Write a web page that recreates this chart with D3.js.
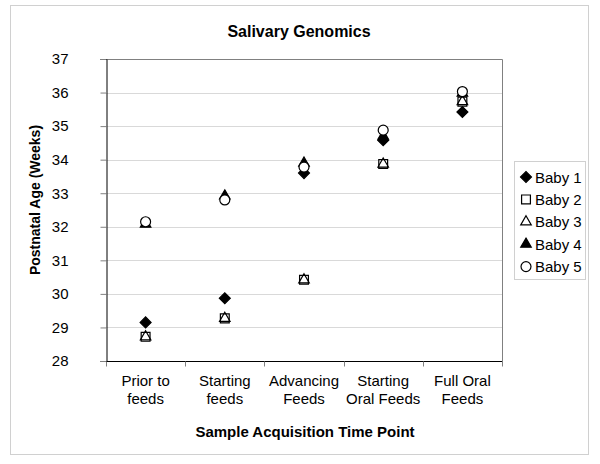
<!DOCTYPE html>
<html><head><meta charset="utf-8">
<script src="https://cdn.jsdelivr.net/npm/d3@7"></script>
<style>body{margin:0;background:#fff}svg{display:block;font-family:Arial,"Liberation Sans",sans-serif}</style>
</head><body><svg id="c" width="600" height="464"></svg>
<script>
const categories = [["Prior to","feeds"],["Starting","feeds"],["Advancing","Feeds"],["Starting","Oral Feeds"],["Full Oral","Feeds"]];
const seriesNames = ["Baby 1","Baby 2","Baby 3","Baby 4","Baby 5"];
const baby1 = [29.15, 29.87, 33.6, 34.58, 35.42];
const baby2 = [28.72, 29.27, 30.42, 33.87, 35.73];
const baby3 = [28.72, 29.27, 30.42, 33.87, 35.73];
const baby4 = [32.08, 32.92, 33.9, 34.7, 35.98];
const baby5 = [32.15, 32.8, 33.78, 34.88, 36.03];
const yTicks = [28,29,30,31,32,33,34,35,36,37];
const title = "Salivary Genomics";
const xTitle = "Sample Acquisition Time Point";
const yTitle = "Postnatal Age (Weeks)";

const series = [baby1, baby2, baby3, baby4, baby5];
const svg = d3.select("#c");
const L = 106, R = 502, T = 59, B = 361;
const catKeys = categories.map((c,i)=>i);
const x = d3.scaleBand().domain(catKeys).range([L,R]).paddingInner(0).paddingOuter(0);
const y = d3.scaleLinear().domain([28,37]).range([B,T]);

// outer chart border
svg.append("rect").attr("x",10.5).attr("y",5.5).attr("width",578).attr("height",449)
  .attr("fill","#fff").attr("stroke","#d0d0d0");

// gridlines
svg.append("g").selectAll("line").data(yTicks.filter(t=>t>28 && t<37)).join("line")
  .attr("x1",L).attr("x2",R).attr("y1",d=>Math.round(y(d))+0.5).attr("y2",d=>Math.round(y(d))+0.5)
  .attr("stroke","#d9d9d9");

// plot border top/right
svg.append("path").attr("d",`M${L},${T+0.5}H${R+0.5}V${B}`).attr("fill","none").attr("stroke","#808080");

// y axis
const yAxis = d3.axisLeft(y).tickValues(yTicks).tickSize(6).tickPadding(32).tickFormat(d3.format("d"));
const gy = svg.append("g").attr("transform",`translate(${L+0.5},0)`).call(yAxis);
gy.select(".domain").attr("stroke","#000");
gy.selectAll(".tick line").attr("stroke","#808080");
gy.selectAll(".tick text").attr("font-size",15).attr("fill","#000").attr("font-family","Arial, Liberation Sans");

// x axis
const gx = svg.append("g").attr("transform",`translate(0,${B+0.5})`);
gx.append("line").attr("x1",L).attr("x2",R+0.5).attr("stroke","#000");
const edges = catKeys.map(k=>x(k)).concat([R]);
gx.selectAll("line.t").data(edges).join("line").attr("class","t")
  .attr("x1",d=>Math.round(d)+0.5).attr("x2",d=>Math.round(d)+0.5).attr("y1",0).attr("y2",5).attr("stroke","#808080");
const xl = gx.selectAll("text.cat").data(categories).join("text").attr("class","cat")
  .attr("text-anchor","middle").attr("font-size",15).attr("fill","#000")
  .attr("transform",(d,i)=>`translate(${x(i)+x.bandwidth()/2},0)`);
xl.selectAll("tspan").data(d=>d).join("tspan").attr("x",0).attr("y",(d,i)=>24+i*18).text(d=>d);

// titles
svg.append("text").attr("x",299).attr("y",37).attr("text-anchor","middle").attr("font-weight","bold").attr("font-size",16).text(title);
svg.append("text").attr("x",305).attr("y",437).attr("text-anchor","middle").attr("font-weight","bold").attr("font-size",15).text(xTitle);
svg.append("text").attr("transform","translate(40,200) rotate(-90)").attr("text-anchor","middle").attr("font-weight","bold").attr("font-size",14).text(yTitle);

// markers
const markers = [
  {type:d3.symbolSquare,size:60,rot:45,fill:"#000",stroke:"#000"},
  {type:d3.symbolSquare,size:78,rot:0,fill:"#fff",stroke:"#000"},
  {type:d3.symbolTriangle,size:48,rot:0,fill:"none",stroke:"#000"},
  {type:d3.symbolTriangle,size:48,rot:0,fill:"#000",stroke:"#000"},
  {type:d3.symbolCircle,size:78,rot:0,fill:"#fff",stroke:"#000"}
];
function drawMarker(g, m){
  g.append("path").attr("d",d3.symbol(m.type,m.size)()).attr("transform",`rotate(${m.rot})`)
   .attr("fill",m.fill).attr("stroke",m.stroke).attr("stroke-width",1.2);
}
series.forEach((vals,si)=>{
  const g = svg.append("g");
  g.selectAll("g").data(vals).join("g")
    .attr("transform",(v,i)=>`translate(${x(i)+x.bandwidth()/2},${y(v)})`)
    .each(function(){ drawMarker(d3.select(this), markers[si]); });
});

// legend
const lg = svg.append("g");
lg.append("rect").attr("x",514.5).attr("y",161.5).attr("width",71).attr("height",118).attr("fill","#fff").attr("stroke","#d0d0d0");
seriesNames.forEach((n,i)=>{
  const yy = 177 + i*22.4;
  const mg = lg.append("g").attr("transform",`translate(526,${yy})`);
  drawMarker(mg, markers[i]);
  lg.append("text").attr("x",535).attr("y",yy+5.5).attr("font-size",15).text(n);
});
</script></body></html>
